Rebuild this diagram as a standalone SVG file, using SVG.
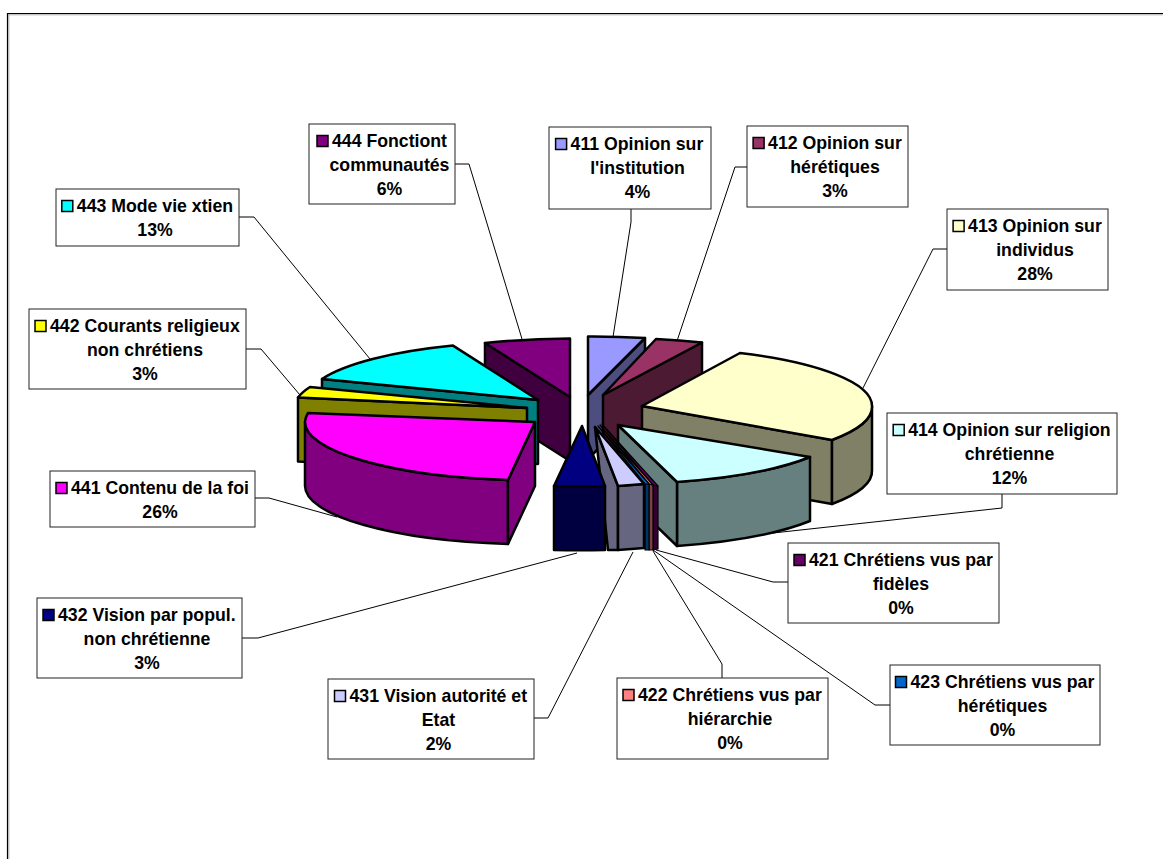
<svg xmlns="http://www.w3.org/2000/svg" width="1163" height="859" viewBox="0 0 1163 859">
<style>
.f{stroke:#000;stroke-width:2.5;stroke-linejoin:round}
.s{stroke:#000;stroke-width:1.2;stroke-linejoin:round}
.box{fill:#fff;stroke:#222;stroke-width:1}
.key{stroke:#000;stroke-width:1.5}
.t{font-family:"Liberation Sans",Arial,sans-serif;font-weight:bold;font-size:17.7px;fill:#000}
.c{text-anchor:middle}
.ld{fill:none;stroke:#000;stroke-width:1}
</style>
<rect x="0" y="0" width="1163" height="859" fill="#fff"/>
<g id="frame">
<line x1="7" y1="13.5" x2="1163" y2="13.5" stroke="#000" stroke-width="1.2"/>
<line x1="7" y1="14.8" x2="1163" y2="14.8" stroke="#aaa" stroke-width="1"/>
<line x1="7.5" y1="13" x2="7.5" y2="859" stroke="#000" stroke-width="1.2"/>
<line x1="8.8" y1="14" x2="8.8" y2="859" stroke="#aaa" stroke-width="1"/>
</g>
<g id="connectors" class="ld">
<polyline points="455,164 469,164 522,339"/>
<polyline points="239,217 254,217 370,359"/>
<polyline points="246,349 261,349 300,395"/>
<polyline points="255,498 269,498 337,517"/>
<polyline points="242,638 258,638 577,553"/>
<polyline points="534,718 548,718 633,552"/>
<polyline points="722,678 722,664 653,551"/>
<polyline points="890,705 875,705 653,550"/>
<polyline points="788,582 773,582 656,550"/>
<polyline points="1002,494 1002,508 773,533"/>
<polyline points="947,249 933,249 863,388"/>
<polyline points="747,167 735,167 677,341"/>
<polyline points="631,209 631,222 613,337"/>
</g>
<g id="slice-444">
<path class="f" fill="#400040" d="M570,397 L485,343 L485,407 L570,461 Z"/>
<path class="f" fill="#800080" d="M570,397 L485,343 A230,58.5 0 0 1 570,338.5 Z"/>
</g>
<g id="slice-411">
<path class="f" fill="#4D4D80" d="M588,395 L645,338 L645,402 L588,459 Z"/>
<path class="f" fill="#9999FF" d="M588,395 L588,336.5 A230,58.5 0 0 1 645,338 Z"/>
</g>
<g id="slice-412">
<path class="f" fill="#4D1A33" d="M603,395 L702,342.5 L702,406.5 L603,459 Z"/>
<path class="f" fill="#993366" d="M603,395 L656,339 A230,58.5 0 0 1 702,342.5 Z"/>
</g>
<g id="slice-443">
<path class="f" fill="#008080" d="M538,400 L322,379 L322,443 L538,464 Z"/>
<path class="f" fill="#00FFFF" d="M538,400 L322,379 A230,58.5 0 0 1 453,345.6 Z"/>
</g>
<g id="slice-413">
<path class="f" fill="#808066" d="M642,406 L832,440 L832,504 L642,470 Z"/>
<path class="f" fill="#808066" d="M872,406 A230,58.5 0 0 1 832,440 L832,504 A230,58.5 0 0 0 872,470 Z"/>
<path class="f" fill="#FFFFCC" d="M642,406 L740,353 A230,58.5 0 0 1 872,406 A230,58.5 0 0 1 832,440 Z"/>
</g>
<g id="slice-442">
<path class="f" fill="#808000" d="M527,408 L298,397.5 L298,461.5 L527,472 Z"/>
<path class="f" fill="#FFFF00" d="M527,408 L298,397.5 A230,58.5 0 0 1 310,387 Z"/>
</g>
<g id="slice-441">
<path class="f" fill="#800080" d="M508,480 A230,58.5 0 0 1 305,422 L305,486 A230,58.5 0 0 0 508,544 Z"/>
<path class="f" fill="#800080" d="M535,422 L508,480 L508,544 L535,486 Z"/>
<path class="f" fill="#FF00FF" d="M535,422 L508,480 A230,58.5 0 0 1 305,422 A230,58.5 0 0 1 308,413 Z"/>
</g>
<g id="slice-414">
<path class="f" fill="#668080" d="M810,457 A230,58.5 0 0 1 677,482 L677,546 A230,58.5 0 0 0 810,521 Z"/>
<path class="f" fill="#668080" d="M618,425 L677,482 L677,546 L618,489 Z"/>
<path class="f" fill="#CCFFFF" d="M618,425 L810,457 A230,58.5 0 0 1 677,482 Z"/>
</g>
<g id="slice-421">
<path class="s" fill="#330033" d="M653,485 L658,486 L658,549 L653,550 Z"/>
<path class="s" fill="#660066" d="M602,424 L658,486 L653,485 Z"/>
</g>
<g id="slice-422">
<path class="s" fill="#804040" d="M649,484 L653,485 L653,550 L649,550 Z"/>
<path class="s" fill="#FF8080" d="M600,425 L653,485 L649,484 Z"/>
</g>
<g id="slice-423">
<path class="s" fill="#003366" d="M645,484 L649,484 L649,550 L645,550 Z"/>
<path class="s" fill="#0066CC" d="M598,426 L649,484 L645,484 Z"/>
</g>
<g id="slice-431">
<path class="f" fill="#666680" d="M595,427 L618,486 L618,550 L608,550 Z"/>
<path class="f" fill="#666680" d="M644,484 A230,58.5 0 0 1 618,486 L618,550 A230,58.5 0 0 0 644,548 Z"/>
<path class="f" fill="#CCCCFF" d="M595,427 L644,484 A230,58.5 0 0 1 618,486 Z"/>
</g>
<g id="slice-432">
<path class="f" fill="#000040" d="M605,486 A230,58.5 0 0 1 554,486 L554,550 A230,58.5 0 0 0 605,550 Z"/>
<path class="f" fill="#000080" d="M582,426 L605,486 A230,58.5 0 0 1 554,486 Z"/>
</g>
<g id="label-444">
<rect class="box" x="309" y="124" width="146" height="80"/>
<rect class="key" fill="#800080" x="317" y="135.5" width="11" height="11"/>
<text class="t" x="332" y="147">444 Fonctiont</text>
<text class="t c" x="389.5" y="171">communautés</text>
<text class="t c" x="389.5" y="195">6%</text>
</g>
<g id="label-411">
<rect class="box" x="549" y="127" width="162" height="82"/>
<rect class="key" fill="#9999FF" x="555.6" y="138.5" width="11" height="11"/>
<text class="t" x="570.6" y="150">411 Opinion sur</text>
<text class="t c" x="637.5" y="174">l'institution</text>
<text class="t c" x="637.5" y="198">4%</text>
</g>
<g id="label-412">
<rect class="box" x="747" y="126" width="161" height="81"/>
<rect class="key" fill="#993366" x="753.1" y="137.5" width="11" height="11"/>
<text class="t" x="768.1" y="149">412 Opinion sur</text>
<text class="t c" x="835" y="173">hérétiques</text>
<text class="t c" x="835" y="197">3%</text>
</g>
<g id="label-413">
<rect class="box" x="947" y="209" width="161" height="81"/>
<rect class="key" fill="#FFFFCC" x="953.1" y="220.5" width="11" height="11"/>
<text class="t" x="968.1" y="232">413 Opinion sur</text>
<text class="t c" x="1035" y="256">individus</text>
<text class="t c" x="1035" y="280">28%</text>
</g>
<g id="label-414">
<rect class="box" x="887" y="413" width="230" height="81"/>
<rect class="key" fill="#CCFFFF" x="893.2" y="424.5" width="11" height="11"/>
<text class="t" x="908.2" y="436">414 Opinion sur religion</text>
<text class="t c" x="1009.5" y="460">chrétienne</text>
<text class="t c" x="1009.5" y="484">12%</text>
</g>
<g id="label-421">
<rect class="box" x="788" y="543" width="211" height="80"/>
<rect class="key" fill="#660066" x="794" y="554.5" width="11" height="11"/>
<text class="t" x="809" y="566">421 Chrétiens vus par</text>
<text class="t c" x="901" y="590">fidèles</text>
<text class="t c" x="901" y="614">0%</text>
</g>
<g id="label-423">
<rect class="box" x="890" y="665" width="210" height="80"/>
<rect class="key" fill="#0066CC" x="895.5" y="676.5" width="11" height="11"/>
<text class="t" x="910.5" y="688">423 Chrétiens vus par</text>
<text class="t c" x="1002.5" y="712">hérétiques</text>
<text class="t c" x="1002.5" y="736">0%</text>
</g>
<g id="label-422">
<rect class="box" x="617" y="678" width="211" height="81"/>
<rect class="key" fill="#FF8080" x="623" y="689.5" width="11" height="11"/>
<text class="t" x="638" y="701">422 Chrétiens vus par</text>
<text class="t c" x="730" y="725">hiérarchie</text>
<text class="t c" x="730" y="749">0%</text>
</g>
<g id="label-431">
<rect class="box" x="328" y="679" width="206" height="80"/>
<rect class="key" fill="#CCCCFF" x="334.5" y="690.5" width="11" height="11"/>
<text class="t" x="349.5" y="702">431 Vision autorité et</text>
<text class="t c" x="438.5" y="726">Etat</text>
<text class="t c" x="438.5" y="750">2%</text>
</g>
<g id="label-432">
<rect class="box" x="37" y="598" width="205" height="80"/>
<rect class="key" fill="#000080" x="43" y="609.5" width="11" height="11"/>
<text class="t" x="58" y="621">432 Vision par popul.</text>
<text class="t c" x="147" y="645">non chrétienne</text>
<text class="t c" x="147" y="669">3%</text>
</g>
<g id="label-441">
<rect class="box" x="50" y="471" width="205" height="56"/>
<rect class="key" fill="#FF00FF" x="56" y="482.5" width="11" height="11"/>
<text class="t" x="71" y="494">441 Contenu de la foi</text>
<text class="t c" x="160" y="518">26%</text>
</g>
<g id="label-442">
<rect class="box" x="29" y="309" width="217" height="80"/>
<rect class="key" fill="#FFFF00" x="35" y="320.5" width="11" height="11"/>
<text class="t" x="50" y="332">442 Courants religieux</text>
<text class="t c" x="145" y="356">non chrétiens</text>
<text class="t c" x="145" y="380">3%</text>
</g>
<g id="label-443">
<rect class="box" x="56" y="189" width="183" height="57"/>
<rect class="key" fill="#00FFFF" x="61.8" y="200.5" width="11" height="11"/>
<text class="t" x="76.8" y="212">443 Mode vie xtien</text>
<text class="t c" x="155" y="236">13%</text>
</g>
</svg>
